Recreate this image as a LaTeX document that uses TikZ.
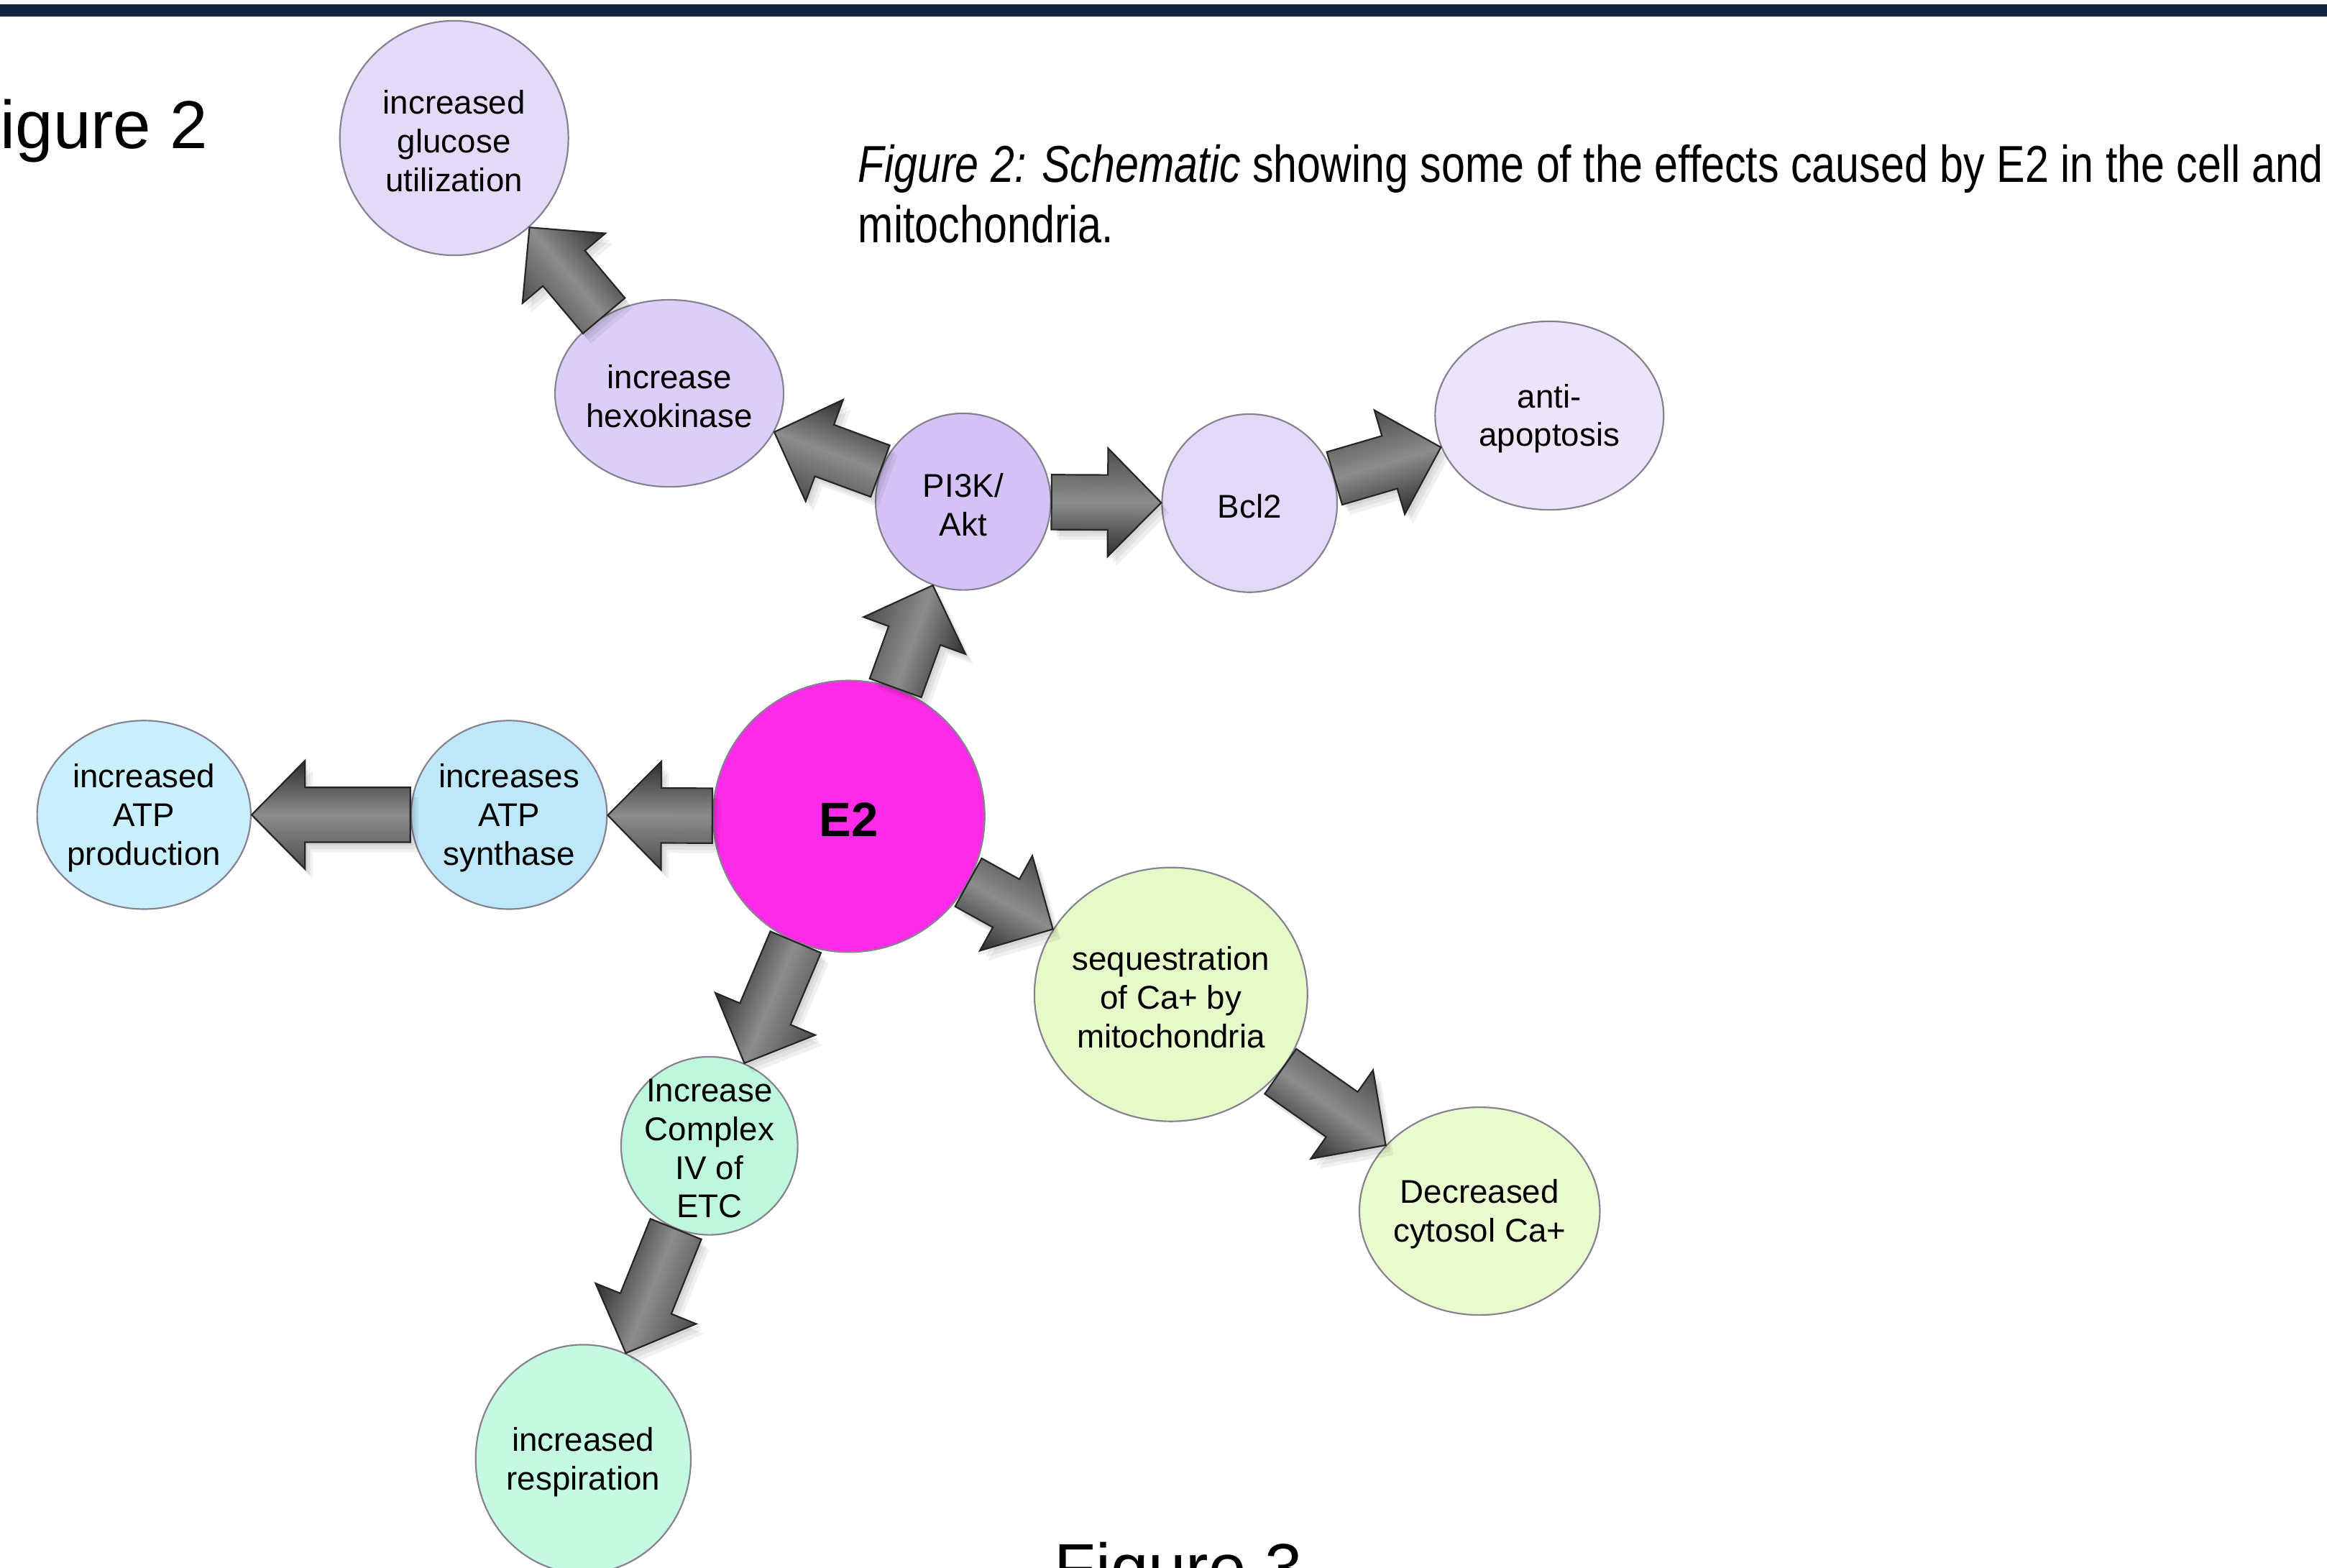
\documentclass[tikz,border=0pt]{standalone}
\usepackage{fontspec}
\setmainfont{Liberation Sans}
\newfontfamily\capfont[FakeStretch=0.82]{Liberation Sans}
\usetikzlibrary{shapes.geometric}
\usetikzlibrary{calc}

\definecolor{topbar}{HTML}{14263F}
\definecolor{rimgray}{HTML}{868290}
\definecolor{glucfill}{HTML}{E3DAF8}
\definecolor{hexofill}{HTML}{DCCFF7}
\definecolor{pikfill}{HTML}{D4C2F6}
\definecolor{bclfill}{HTML}{E2D8F8}
\definecolor{antifill}{HTML}{ECE4FA}
\definecolor{e2fill}{HTML}{FF2BE8}
\definecolor{synthfill}{HTML}{BEE8F9}
\definecolor{atpfill}{HTML}{C9EEFC}
\definecolor{cplxfill}{HTML}{BEF7DD}
\definecolor{respfill}{HTML}{C6F9E1}
\definecolor{seqfill}{HTML}{E6F9C9}
\definecolor{cytfill}{HTML}{E8FACE}

\tikzset{
  bubble/.style={ellipse, draw=rimgray, line width=0.6pt, inner sep=0pt},
  nodetext/.style={align=center, inner sep=0pt, yshift=-0.04cm, font=\fontsize{12.6pt}{14.8pt}\selectfont},
  arrowbody/.style={draw=black!85, line width=0.6pt, top color=black!70, bottom color=black!82, middle color=black!45},
  arrowshade/.style={fill=black, opacity=0.06}
}

% fat block arrow from one node to another
\newcommand{\farrpoly}{(0cm,-0.37cm) -- ({\farrlen pt-0.72cm},-0.37cm) -- ({\farrlen pt-0.72cm},-0.73cm) -- ({\farrlen pt},0cm) -- ({\farrlen pt-0.72cm},0.73cm) -- ({\farrlen pt-0.72cm},0.37cm) -- (0cm,0.37cm) -- cycle}
\newcommand{\fatarrow}[2]{%
  \path (#1) -- (#2) coordinate[pos=0] (ftail) coordinate[pos=1] (fhead);
  \path let \p1=(ftail), \p2=(fhead) in \pgfextra{%
    \pgfmathsetmacro\tmpang{atan2(\y2-\y1,\x2-\x1)}\xdef\farrang{\tmpang}%
    \pgfmathsetmacro\tmplen{veclen(\x2-\x1,\y2-\y1)}\xdef\farrlen{\tmplen}};
  \foreach \s in {1,2,3}
    \fill[arrowshade, transform canvas={shift={($(ftail)+(0.035*\s,-0.045*\s)$)}, rotate=\farrang}] \farrpoly;
  \shade[arrowbody, transform canvas={shift={(ftail)}, rotate=\farrang}] \farrpoly;
}

\begin{document}
\begin{tikzpicture}
  \useasboundingbox (0,0) rectangle (31.36,-21.12);
  \fill[topbar] (0,-0.06) rectangle (31.36,-0.22);

  % titles
  \node[anchor=base west, inner sep=0pt, font=\fontsize{26pt}{30pt}\selectfont] (figa) at (0,-2.00) {igure 2};
  \node[anchor=base west, inner sep=0pt, font=\fontsize{26pt}{30pt}\selectfont] (figb) at (14.2,-21.44) {Figure 3};
  \node[anchor=north west, inner sep=0pt, align=left, font=\capfont\fontsize{19.9pt}{23.3pt}\selectfont] (capt) at (11.56,-1.94)
    {\textit{Figure 2: Schematic} showing some of the effects caused by E2 in the cell and\\mitochondria.};

  % bubbles
  \node[bubble, fill=e2fill, minimum size=3.66cm, label={[nodetext, font=\fontsize{18.5pt}{22pt}\selectfont\bfseries]center:E2}] (e2) at (11.44,-11.00) {};
  \node[bubble, fill=pikfill, minimum width=2.36cm, minimum height=2.38cm, label={[nodetext]center:PI3K/\\Akt}] (pik) at (12.98,-6.76) {};
  \node[bubble, fill=hexofill, minimum width=3.08cm, minimum height=2.52cm, label={[nodetext]center:increase\\hexokinase}] (hexo) at (9.02,-5.30) {};
  \node[bubble, fill=glucfill, minimum width=3.08cm, minimum height=3.16cm, label={[nodetext]center:increased\\glucose\\utilization}] (gluc) at (6.12,-1.86) {};
  \node[bubble, fill=bclfill, minimum width=2.36cm, minimum height=2.40cm, label={[nodetext]center:Bcl2}] (bcl) at (16.84,-6.78) {};
  \node[bubble, fill=antifill, minimum width=3.08cm, minimum height=2.54cm, label={[nodetext]center:anti-\\apoptosis}] (anti) at (20.88,-5.60) {};
  \node[bubble, fill=synthfill, minimum width=2.64cm, minimum height=2.54cm, label={[nodetext]center:increases\\ATP\\synthase}] (synth) at (6.86,-10.98) {};
  \node[bubble, fill=atpfill, minimum width=2.88cm, minimum height=2.54cm, label={[nodetext]center:increased\\ATP\\production}] (atp) at (1.94,-10.98) {};
  \node[bubble, fill=cplxfill, minimum width=2.38cm, minimum height=2.40cm, label={[nodetext]center:Increase\\Complex\\IV of\\ETC}] (cplx) at (9.56,-15.44) {};
  \node[bubble, fill=respfill, minimum width=2.90cm, minimum height=3.08cm, label={[nodetext]center:increased\\respiration}] (resp) at (7.86,-19.66) {};
  \node[bubble, fill=seqfill, minimum width=3.68cm, minimum height=3.42cm, label={[nodetext]center:sequestration\\of Ca+ by\\mitochondria}] (seq) at (15.78,-13.40) {};
  \node[bubble, fill=cytfill, minimum width=3.24cm, minimum height=2.80cm, label={[nodetext]center:Decreased\\cytosol Ca+}] (cyt) at (19.94,-16.32) {};

  % arrows
  \fatarrow{e2}{pik}
  \fatarrow{pik}{hexo}
  \fatarrow{hexo}{gluc}
  \fatarrow{pik}{bcl}
  \fatarrow{bcl}{anti}
  \fatarrow{e2}{synth}
  \fatarrow{synth}{atp}
  \fatarrow{e2}{cplx}
  \fatarrow{cplx}{resp}
  \fatarrow{e2}{seq}
  \fatarrow{seq}{cyt}
\end{tikzpicture}
\end{document}
